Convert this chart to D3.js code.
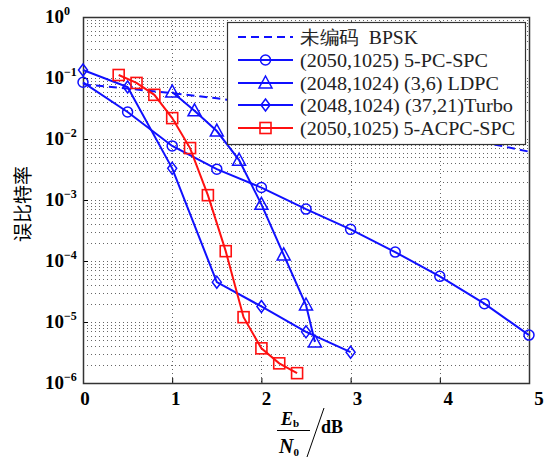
<!DOCTYPE html>
<html>
<head>
<meta charset="utf-8">
<script src="https://cdn.jsdelivr.net/npm/d3@7"></script>
<style>
  body { margin: 0; background: #fff; }
  svg { display: block; }
</style>
</head>
<body>
<div id="chart"></div>
<script>
// data
var bpskX = [0, 0.5, 1, 1.5, 2, 2.5, 3, 3.5, 4, 4.5, 5];
var bpskY = [0.0786, 0.0671, 0.0563, 0.0464, 0.0375, 0.0297, 0.0229, 0.0172, 0.0125, 0.0088, 0.0062];

var pcX = [0, 0.5, 1, 1.5, 2, 2.5, 3, 3.5, 4, 4.5, 5];
var pcY = [0.085, 0.0277, 0.0077, 0.0032, 0.0016, 7.1e-4, 3.3e-4, 1.4e-4, 5.6e-5, 2.0e-5, 6.1e-6];

var ldpcX = [1, 1.25, 1.5, 1.75, 2, 2.25, 2.5, 2.6];
var ldpcY = [0.059, 0.029, 0.0135, 0.0045, 8.5e-4, 1.26e-4, 1.9e-5, 4.7e-6];

var turboX = [0, 0.5, 1, 1.5, 2, 2.5, 3];
var turboY = [0.135, 0.071, 0.0033, 4.5e-5, 1.8e-5, 6.9e-6, 3.2e-6];

var acpcX = [0.4, 0.6, 0.8, 1.0, 1.2, 1.4, 1.6, 1.8, 2.0, 2.2, 2.4];
var acpcY = [0.112, 0.083, 0.053, 0.022, 0.0071, 0.0012, 1.45e-4, 1.2e-5, 3.7e-6, 2.1e-6, 1.45e-6];

var xTicks = [0, 1, 2, 3, 4, 5];
var yExps = [0, -1, -2, -3, -4, -5, -6];

var legendLabels = ["未编码  BPSK", "(2050,1025) 5-PC-SPC", "(2048,1024) (3,6) LDPC",
  "(2048,1024) (37,21)Turbo", "(2050,1025) 5-ACPC-SPC"];
var legendWidths = [118, 188, 199, 213, 215];

var blue = "#1010ff", red = "#ff1010";

var series = [
  { xs: bpskX, ys: bpskY, color: blue, marker: "none", dash: "8,5" },
  { xs: pcX, ys: pcY, color: blue, marker: "circle" },
  { xs: ldpcX, ys: ldpcY, color: blue, marker: "triangle" },
  { xs: turboX, ys: turboY, color: blue, marker: "diamond" },
  { xs: acpcX, ys: acpcY, color: red, marker: "square" }
];

var W = 547, H = 457;
var pLeft = 83, pRight = 529, pTop = 17, pBottom = 383;

var svg = d3.select("#chart").append("svg")
  .attr("width", W).attr("height", H);

var x = d3.scaleLinear().domain([0, 5]).range([pLeft, pRight]);
var y = d3.scaleLog().domain([1e-6, 1]).range([pBottom, pTop]);

// grid
var grid = svg.append("g")
  .attr("stroke", "#666").attr("stroke-width", 1)
  .attr("stroke-dasharray", "1,3").attr("fill", "none");

var minor = [];
for (var e = -6; e < 0; e++) {
  for (var m = 1; m < 10; m++) minor.push(m * Math.pow(10, e));
}
grid.selectAll("line.h").data(minor.filter(function(v) { return v > 1e-6; }))
  .enter().append("line").attr("class", "h")
  .attr("x1", pLeft).attr("x2", pRight)
  .attr("y1", function(d) { return Math.round(y(d)) + 0.5; })
  .attr("y2", function(d) { return Math.round(y(d)) + 0.5; });

grid.selectAll("line.v").data(xTicks.slice(1, -1))
  .enter().append("line").attr("class", "v")
  .attr("y1", pTop).attr("y2", pBottom)
  .attr("x1", function(d) { return Math.round(x(d)) + 0.5; })
  .attr("x2", function(d) { return Math.round(x(d)) + 0.5; });

// axes (ticks pointing inward)
svg.append("g")
  .attr("transform", "translate(0," + pBottom + ")")
  .call(d3.axisBottom(x).tickValues(xTicks).tickSize(-5).tickFormat(""))
  .call(function(g) { g.select(".domain").remove(); });
svg.append("g")
  .attr("transform", "translate(" + pLeft + ",0)")
  .call(d3.axisLeft(y).tickValues(yExps.map(function(e) { return Math.pow(10, e); }))
    .tickSize(-5).tickFormat(""))
  .call(function(g) { g.select(".domain").remove(); });

svg.append("rect")
  .attr("x", pLeft + 0.5).attr("y", pTop + 0.5)
  .attr("width", pRight - pLeft).attr("height", pBottom - pTop)
  .attr("fill", "none").attr("stroke", "#333").attr("stroke-width", 1.5);

// tick labels
svg.append("g").selectAll("text").data(xTicks).enter().append("text")
  .attr("x", function(d) { return x(d) + 2 + d * 1.6; })
  .attr("y", pBottom + 22)
  .attr("text-anchor", "middle")
  .attr("font-family", "Liberation Serif, Times New Roman, serif")
  .attr("font-weight", "bold").attr("font-size", 19)
  .text(function(d) { return d; });

var yl = svg.append("g").selectAll("text").data(yExps).enter().append("text")
  .attr("x", 45)
  .attr("y", function(d) { return y(Math.pow(10, d)) + 6; })
  .attr("font-family", "Liberation Serif, Times New Roman, serif")
  .attr("font-weight", "bold").attr("font-size", 19);
yl.append("tspan").text("10");
yl.append("tspan").attr("dy", -8).attr("font-size", 12)
  .text(function(d) { return d === 0 ? "0" : "\u2212" + (-d); });

// y label
svg.append("text")
  .attr("transform", "translate(30,204) rotate(-90)")
  .attr("text-anchor", "middle")
  .attr("font-family", "Noto Sans CJK SC, sans-serif")
  .attr("font-size", 19)
  .text("误比特率");

// x label: Eb/N0 / dB
var xl = svg.append("g")
  .attr("font-family", "Liberation Serif, Times New Roman, serif")
  .attr("font-weight", "bold");
var eb = xl.append("text").attr("x", 281).attr("y", 425).attr("font-size", 18).attr("font-style", "italic");
eb.append("tspan").text("E");
eb.append("tspan").attr("font-size", 11).attr("font-style", "normal").attr("dy", 2).text("b");
xl.append("line").attr("x1", 277).attr("x2", 310).attr("y1", 430.5).attr("y2", 430.5)
  .attr("stroke", "#000").attr("stroke-width", 1);
var n0 = xl.append("text").attr("x", 279).attr("y", 453).attr("font-size", 20).attr("font-style", "italic");
n0.append("tspan").text("N");
n0.append("tspan").attr("font-size", 11).attr("font-style", "normal").attr("dy", 3).text("0");
xl.append("line").attr("x1", 324).attr("y1", 408).attr("x2", 307).attr("y2", 457)
  .attr("stroke", "#000").attr("stroke-width", 1);
xl.append("text").attr("x", 321).attr("y", 433).attr("font-size", 18).text("dB");

// markers
function drawMarker(g, type, cx, cy, color) {
  if (type === "circle") {
    g.append("circle").attr("cx", cx).attr("cy", cy).attr("r", 5)
      .attr("fill", "none").attr("stroke", color).attr("stroke-width", 1.5);
  } else if (type === "triangle") {
    g.append("path")
      .attr("d", "M" + cx + "," + (cy - 7) + "L" + (cx + 6.5) + "," + (cy + 5) + "L" + (cx - 6.5) + "," + (cy + 5) + "Z")
      .attr("fill", "none").attr("stroke", color).attr("stroke-width", 1.5);
  } else if (type === "diamond") {
    g.append("path")
      .attr("d", "M" + cx + "," + (cy - 6) + "L" + (cx + 4.5) + "," + cy + "L" + cx + "," + (cy + 6) + "L" + (cx - 4.5) + "," + cy + "Z")
      .attr("fill", "none").attr("stroke", color).attr("stroke-width", 1.5);
  } else if (type === "square") {
    g.append("rect").attr("x", cx - 5.5).attr("y", cy - 5.5).attr("width", 11).attr("height", 11)
      .attr("fill", "none").attr("stroke", color).attr("stroke-width", 1.6);
  }
}

var plot = svg.append("g");
series.forEach(function(s) {
  var pts = s.xs.map(function(v, i) { return [v, s.ys[i]]; });
  plot.append("path").datum(pts)
    .attr("d", d3.line().x(function(d) { return x(d[0]); }).y(function(d) { return y(d[1]); }))
    .attr("fill", "none").attr("stroke", s.color).attr("stroke-width", 2)
    .attr("stroke-dasharray", s.dash || null);
  pts.forEach(function(p) { drawMarker(plot, s.marker, x(p[0]), y(p[1]), s.color); });
});

// legend
var lg = svg.append("g");
lg.append("rect").attr("x", 227.5).attr("y", 22.5).attr("width", 298).attr("height", 122)
  .attr("fill", "#fff").attr("stroke", "#333").attr("stroke-width", 1.2);
var rowY = [37, 60, 83, 105, 128];
series.forEach(function(s, i) {
  var cy = rowY[i];
  lg.append("line").attr("x1", 238).attr("x2", 293).attr("y1", cy).attr("y2", cy)
    .attr("stroke", s.color).attr("stroke-width", 2)
    .attr("stroke-dasharray", s.dash || null);
  drawMarker(lg, s.marker, 265.5, cy, s.color);
  lg.append("text")
    .attr("x", 300).attr("y", cy + 7)
    .attr("font-family", "Liberation Serif, Times New Roman, serif")
    .attr("font-size", 19).attr("fill", "#222")
    .attr("xml:space", "preserve")
    .attr("textLength", legendWidths[i])
    .attr("lengthAdjust", "spacingAndGlyphs")
    .text(legendLabels[i]);
});
</script>
</body>
</html>
